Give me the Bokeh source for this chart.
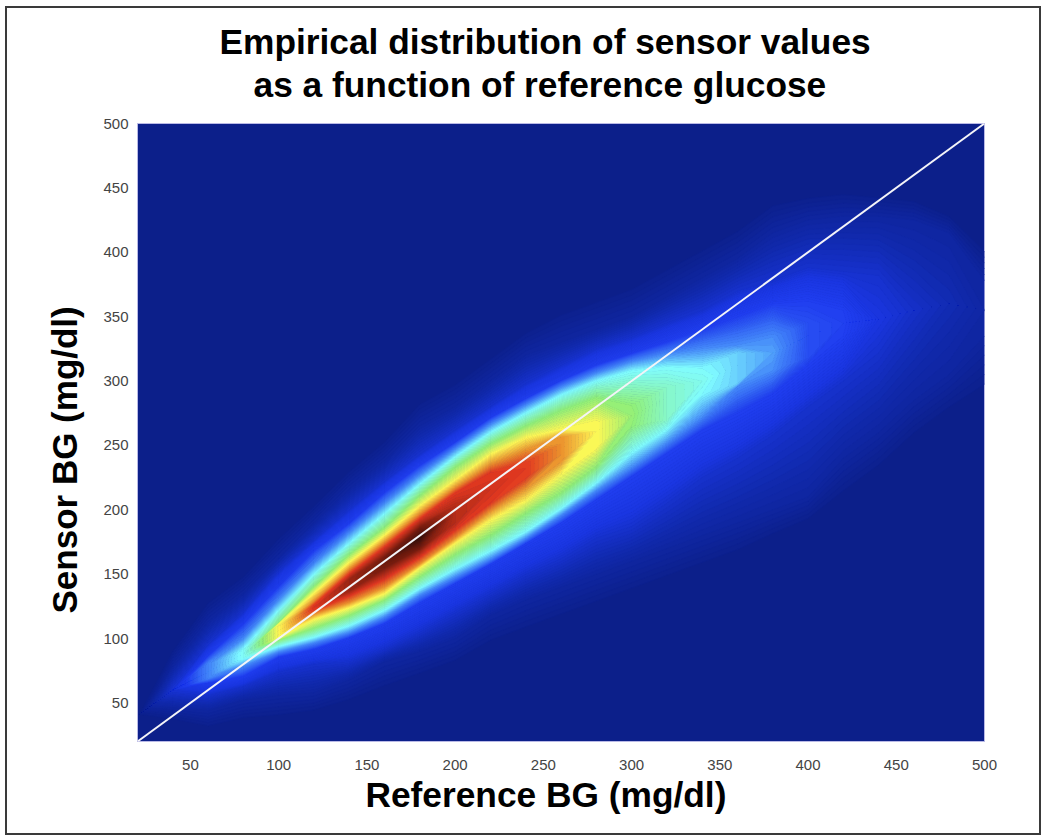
import numpy as np
from bokeh.plotting import figure
from bokeh.models import Title, Range1d, FixedTicker, InlineStyleSheet
from bokeh.embed import file_html
from bokeh.resources import INLINE

title_lines = ["Empirical distribution of sensor values", "as a function of reference glucose"]
x_title = "Reference BG (mg/dl)"
y_title = "Sensor BG (mg/dl)"
tick_values = [50, 100, 150, 200, 250, 300, 350, 400, 450, 500]
line_ends = [20, 500]

# One entry per reference-BG column.
N = None
reference_bg = list(range(20, 501, 20))
ridge = [40, 60, 74, 88, 106, 124, 142, 160, 178, 197, 216, 232, 248, 261, 273, 287, 300, 312, 322, 335, 345, 348, 355, 360, 355]
peak = [0, 8.5, 24, 36, 62, 81, 88, 94, 100, 85, 82, 80, 72, 62, 51, 41, 37, 31, 27, 17, 15.5, 10, 7.5, 5.5, 3.5]

# Sensor BG at which each density level is crossed, below (L) and above (U) the ridge.
levels_read = [0, 3, 8, 15, 25, 35, 50, 62, 72, 80, 92]
L0 = [39, 36, 30, 36, 38, 42, 50, 60, 70, 80, 95, 105, 115, 125, 135, 145, 155, 165, 178, 190, 210, 230, 255, 275, 290]
U0 = [41, 92, 130, 150, 180, 205, 232, 255, 285, 300, 320, 340, 355, 365, 375, 390, 405, 420, 440, 445, 448, 445, 442, 430, 405]
L3 = [N, 46, 44, 52, 56, 58, 68, 82, 90, 100, 118, 130, 140, 150, 160, 170, 180, 190, 200, 210, 240, 260, 285, 305, 335]
U3 = [N, 78, 113, 135, 163, 190, 216, 238, 265, 280, 300, 320, 330, 340, 350, 365, 380, 395, 415, 425, 428, 428, 425, 415, 378]
L8 = [N, 58, 56, 63, 74, 80, 82, 92, 105, 120, 135, 150, 162, 178, 187, 205, 225, 240, 258, 280, 300, 322]
U8 = [N, 63, 95, 120, 152, 176, 200, 222, 243, 262, 280, 298, 312, 325, 334, 345, 355, 370, 378, 388, 385, 382]
L15 = [N, N, 66, 71, 86, 92, 101, 112, 128, 143, 158, 174, 190, 208, 226, 244, 262, 275, 290, 312, 335]
U15 = [N, N, 86, 111, 140, 168, 189, 213, 234, 252, 271, 286, 300, 312, 321, 330, 340, 350, 360, 362, 355]
L25 = [N, N, 69, 79, 90, 97, 105, 117, 134, 148, 162, 178, 196, 215, 233, 252, 272, 296, 308, 318]
U25 = [N, N, 81, 100, 130, 158, 182, 205, 227, 247, 266, 281, 295, 306, 315, 321, 325, 328, 334, 345]
L35 = [N, N, 70, 84, 94, 101, 110, 122, 139, 154, 168, 183, 201, 221, 244, 262, 290, 298]
U35 = [N, N, 80, 92, 122, 150, 174, 197, 220, 241, 260, 275, 289, 300, 308, 311, 310, 322]
L50 = [N, N, N, 85, 99, 108, 118, 130, 148, 165, 180, 197, 213, 233, 265, 270]
U50 = [N, N, N, 91, 112, 140, 165, 186, 211, 233, 251, 265, 277, 287, 281, 295]
L62 = [N, N, N, N, 101, 115, 124, 135, 155, 174, 192, 207, 228, 248]
U62 = [N, N, N, N, 111, 135, 159, 180, 203, 223, 243, 256, 262, 268]
L72 = [N, N, N, N, 102, 119, 128, 140, 158, 178, 199, 217, 238]
U72 = [N, N, N, N, 110, 129, 154, 175, 197, 217, 235, 246, 256]
L80 = [N, N, N, N, 103, 122, 133, 146, 163, 184, 205, 225, 243]
U80 = [N, N, N, N, 109, 126, 150, 171, 193, 213, 229, 236, 251]
L92 = [N, N, N, N, N, N, 137, 155, 170, 190]
U92 = [N, N, N, N, N, N, 146, 163, 186, 203]
lower = [L0, L3, L8, L15, L25, L35, L50, L62, L72, L80, L92]
upper = [U0, U3, U8, U15, U25, U35, U50, U62, U72, U80, U92]

# One mesh row per crossing; where a column lists no position the row closes on the ridge,
# and a listed position beyond the column's peak carries the peak value.
n_rows = 2 * len(levels_read) + 1
n_cols = len(reference_bg)
mesh_x = np.tile(np.array(reference_bg, dtype=float), (n_rows, 1))
mesh_y = np.zeros((n_rows, n_cols))
mesh_z = np.zeros((n_rows, n_cols))
mid = len(levels_read)
for c in range(n_cols):
    mesh_y[mid, c], mesh_z[mid, c] = ridge[c], peak[c]
    for k, level in enumerate(levels_read):
        depth = mid - k
        lo = lower[k][c] if c < len(lower[k]) else None
        up = upper[k][c] if c < len(upper[k]) else None
        mesh_y[k, c] = lo if lo is not None else ridge[c] - 0.01 * depth
        mesh_y[n_rows - 1 - k, c] = up if up is not None else ridge[c] + 0.01 * depth
        mesh_z[k, c] = min(level, peak[c]) if lo is not None else peak[c]
        mesh_z[n_rows - 1 - k, c] = min(level, peak[c]) if up is not None else peak[c]

# colour ramp (position on the 0-100 density scale, RGB)
ramp_pos = [0, 5, 10, 15, 25, 35, 50, 62, 72, 80, 92, 100]
ramp_rgb = [(12, 31, 138), (17, 42, 175), (26, 54, 225), (32, 62, 240), (70, 140, 250),
            (128, 252, 255), (145, 240, 120), (255, 248, 85), (235, 145, 45),
            (226, 56, 32), (120, 28, 12), (55, 14, 6)]
levels = np.concatenate([np.arange(0.5, 20, 0.5), np.arange(20, 100.5, 1.0), [101]])
def shade(m):
    r, g, b = (int(round(np.interp(m, ramp_pos, [c[i] for c in ramp_rgb]))) for i in range(3))
    return f"#{r:02x}{g:02x}{b:02x}"
fill_palette = [shade(m) for m in (levels[:-1] + levels[1:]) / 2]
line_palette = [shade(m) for m in levels]

FONT = "Liberation Sans"
frame_css = InlineStyleSheet(css=":host::after{content:'';position:absolute;left:5px;top:6px;"
                                 "width:1036px;height:829px;box-sizing:border-box;"
                                 "border:2.5px solid #3a3a3a;pointer-events:none}")
p = figure(width=1050, height=840, output_backend="svg", toolbar_location=None,
           x_range=Range1d(20, 500), y_range=Range1d(20, 500),
           min_border_left=137, min_border_right=66, min_border_top=123, min_border_bottom=99,
           background_fill_color="#0c1f8a", border_fill_color="white",
           stylesheets=[frame_css])
p.grid.visible = False
p.outline_line_color = "#b9b9e6"
p.outline_line_width = 1

for ax in (p.xaxis[0], p.yaxis[0]):
    ax.ticker = FixedTicker(ticks=tick_values)
    ax.axis_line_color = None
    ax.major_tick_line_color = None
    ax.minor_tick_line_color = None
    ax.major_tick_out = 0
    ax.minor_tick_out = 0
    ax.major_label_text_font = FONT
    ax.major_label_text_font_size = "15px"
    ax.major_label_text_color = "#444444"
p.xaxis[0].major_label_standoff = 18
p.yaxis[0].major_label_standoff = 9

p.contour(mesh_x, mesh_y, mesh_z, levels, fill_color=fill_palette,
          line_color=line_palette, line_width=1)
p.line(line_ends, line_ends, line_color="#f4f4f8", line_width=2)

def heading(s, side, offset, standoff, size="35.3px"):
    p.add_layout(Title(text=s, align="left", offset=offset, standoff=standoff,
                       text_font=FONT, text_font_style="bold", text_font_size=size,
                       text_color="black"), side)

# a blank title keeps the two heading lines clear of the plot frame
heading(" ", "above", 0, 0, size="15px")
heading(title_lines[1], "above", 116, 2)
heading(title_lines[0], "above", 82, 2)
heading(x_title, "below", 228, 0)
heading(y_title, "left", 128, 33, size="35px")

open("out.html", "w").write(file_html(p, INLINE))
